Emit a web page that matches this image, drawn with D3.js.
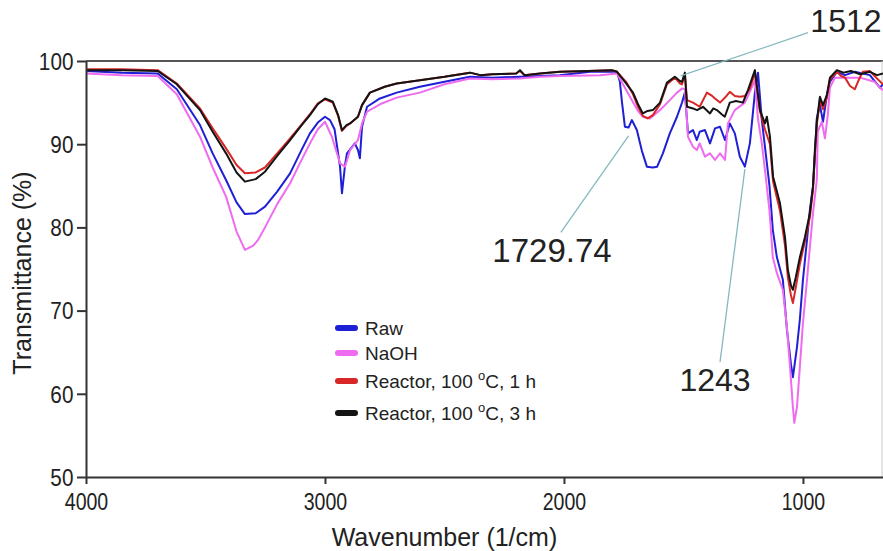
<!DOCTYPE html>
<html>
<head>
<meta charset="utf-8">
<script src="https://cdn.jsdelivr.net/npm/d3@7"></script>
<style>
  html, body { margin: 0; padding: 0; background: #fff; }
  svg { display: block; }
  text { font-family: "Liberation Sans", Arial, sans-serif; fill: #222; }
</style>
</head>
<body>
<svg id="chart" width="883" height="551"></svg>
<script>
// FTIR spectra: [wavenumber (1/cm), transmittance (%)]
const rawSeries = [[4000,98.8],[3850,98.6],[3700,98.5],[3620,96.6],[3523,92.3],[3470,88.9],[3414,85.7],[3370,83.0],[3335,81.6],[3290,81.7],[3251,82.5],[3200,84.3],[3146,86.5],[3100,89.2],[3063,91.3],[3030,92.6],[3000,93.3],[2979,92.9],[2960,91.8],[2937,87.3],[2929,84.1],[2916,87.5],[2908,88.9],[2875,90.1],[2862,89.3],[2854,88.3],[2845,92.1],[2824,94.5],[2770,95.5],[2700,96.2],[2603,96.9],[2500,97.5],[2393,98.1],[2300,98.0],[2184,98.1],[2100,98.2],[2017,98.3],[1891,98.7],[1778,98.7],[1766,97.5],[1757,95.0],[1745,92.1],[1729.74,92.0],[1716,92.9],[1695,91.7],[1674,89.2],[1653,87.3],[1628,87.2],[1610,87.3],[1586,88.9],[1557,91.3],[1527,93.3],[1506,95.0],[1494,96.2],[1481,91.3],[1460,91.7],[1444,90.5],[1432,91.5],[1410,91.7],[1389,90.1],[1368,91.9],[1347,92.1],[1326,90.5],[1306,92.5],[1285,91.3],[1264,88.5],[1243,87.3],[1222,90.1],[1201,96.2],[1188,98.6],[1172,92.9],[1159,89.7],[1140,85.0],[1126,79.7],[1109,76.4],[1084,73.7],[1067,67.7],[1050,63.5],[1042,62.0],[1025,65.6],[1013,68.9],[1000,73.7],[983,78.5],[971,82.1],[958,84.9],[950,88.5],[942,93.1],[929,94.7],[916,92.7],[900,95.9],[887,97.5],[858,98.7],[824,98.3],[783,98.7],[720,98.3],[678,96.8],[665,97.2]];

const naohSeries = [[4000,98.5],[3850,98.3],[3700,98.2],[3620,96.0],[3523,90.9],[3470,87.2],[3414,83.7],[3370,79.5],[3335,77.3],[3300,77.8],[3280,78.5],[3251,80.0],[3200,82.8],[3146,85.3],[3100,88.0],[3063,90.1],[3030,91.8],[3000,92.7],[2971,90.9],[2937,87.7],[2916,87.3],[2895,89.3],[2862,90.5],[2845,92.5],[2824,93.9],[2770,94.8],[2700,95.6],[2603,96.2],[2500,97.2],[2393,97.9],[2300,97.8],[2184,97.9],[2100,98.1],[2017,98.2],[1849,98.3],[1778,98.5],[1724,95.7],[1690,94.0],[1670,93.3],[1640,93.1],[1598,94.1],[1557,95.3],[1527,96.2],[1506,96.7],[1494,96.6],[1481,90.9],[1460,89.7],[1444,89.3],[1432,90.1],[1410,88.5],[1389,88.9],[1368,88.1],[1347,88.9],[1326,88.1],[1314,92.5],[1285,94.1],[1243,95.0],[1213,96.9],[1201,97.7],[1188,93.0],[1172,90.1],[1159,86.9],[1140,82.0],[1126,76.4],[1109,74.5],[1084,72.5],[1067,68.0],[1054,63.2],[1042,58.4],[1036,56.5],[1025,58.4],[1013,63.2],[1000,68.5],[983,73.7],[971,77.6],[958,81.7],[942,85.7],[938,91.5],[921,92.7],[908,90.7],[896,93.5],[887,96.8],[866,98.0],[824,98.0],[762,98.0],[700,97.5],[678,96.8],[665,96.5]];

const reactor1hSeries = [[4000,99.0],[3850,99.0],[3700,98.9],[3620,97.3],[3523,94.3],[3470,91.9],[3414,89.5],[3370,87.5],[3335,86.5],[3290,86.6],[3251,87.2],[3200,88.9],[3146,90.7],[3100,92.3],[3063,93.6],[3030,94.9],[3000,95.4],[2967,95.0],[2945,93.4],[2929,91.6],[2910,92.2],[2895,92.5],[2862,93.3],[2845,94.7],[2812,96.2],[2750,96.9],[2700,97.3],[2603,97.7],[2500,98.1],[2393,98.6],[2350,98.3],[2300,98.4],[2200,98.5],[2184,98.8],[2165,98.3],[2100,98.5],[2017,98.7],[1900,98.8],[1800,98.9],[1778,98.7],[1740,97.5],[1711,96.0],[1690,94.5],[1670,93.4],[1650,93.1],[1628,93.5],[1598,94.8],[1569,97.2],[1536,98.0],[1515,97.3],[1506,97.2],[1494,98.4],[1485,95.3],[1460,95.0],[1432,94.5],[1402,96.2],[1380,95.8],[1368,95.5],[1347,95.0],[1320,95.8],[1306,96.3],[1285,95.8],[1264,95.7],[1243,95.8],[1222,96.7],[1201,98.6],[1180,94.0],[1159,91.8],[1138,90.0],[1125,85.5],[1096,82.0],[1075,77.8],[1063,74.0],[1050,71.8],[1042,70.9],[1030,72.8],[1013,75.6],[992,78.3],[971,81.2],[958,84.5],[950,88.8],[942,92.3],[929,95.4],[916,94.2],[900,95.6],[887,97.8],[858,98.7],[840,98.2],[824,98.0],[803,97.0],[783,96.6],[770,97.5],[750,98.7],[720,98.8],[690,97.9],[665,97.2]];

const reactor3hSeries = [[4000,98.9],[3850,98.9],[3700,98.8],[3620,97.2],[3523,94.1],[3470,91.5],[3414,88.9],[3370,86.6],[3335,85.5],[3290,85.8],[3251,86.7],[3200,88.6],[3146,90.5],[3100,92.2],[3063,93.5],[3030,94.8],[3000,95.5],[2967,95.1],[2945,93.5],[2929,91.7],[2910,92.3],[2895,92.5],[2862,93.3],[2845,94.7],[2812,96.2],[2750,96.9],[2700,97.3],[2603,97.7],[2500,98.1],[2393,98.6],[2350,98.3],[2300,98.4],[2200,98.5],[2184,98.9],[2165,98.3],[2100,98.5],[2017,98.7],[1900,98.8],[1800,98.9],[1778,98.7],[1740,97.3],[1711,96.2],[1690,94.8],[1670,93.7],[1650,94.0],[1628,94.1],[1598,95.0],[1569,97.4],[1536,98.1],[1515,97.6],[1506,97.5],[1494,98.6],[1485,94.5],[1460,94.3],[1443,94.1],[1418,94.5],[1389,93.7],[1375,94.3],[1360,94.1],[1340,93.6],[1327,93.3],[1306,95.0],[1280,95.2],[1251,95.0],[1230,96.5],[1201,98.9],[1180,94.1],[1159,92.5],[1151,93.3],[1138,90.9],[1125,86.1],[1096,82.9],[1075,78.8],[1063,74.9],[1050,73.0],[1042,72.5],[1030,74.0],[1013,76.4],[992,78.8],[971,81.7],[958,84.9],[950,89.3],[942,92.7],[929,95.7],[916,94.7],[900,95.9],[887,98.0],[858,98.9],[830,98.6],[800,98.8],[760,98.4],[720,98.7],[690,98.3],[665,98.5]];

const seriesNames = ["Raw", "NaOH", "Reactor, 100 °C, 1 h", "Reactor, 100 °C, 3 h"];
const seriesColors = ["#1f1fd6", "#ef6bef", "#d92626", "#141414"];
const seriesData = [rawSeries, naohSeries, reactor1hSeries, reactor3hSeries];

const xTicks = [4000, 3000, 2000, 1000];
const yTicks = [50, 60, 70, 80, 90, 100];

// Peak annotations: peak position, leader start and label anchor [wavenumber, %]
const annotations = [
  { label: "1729.74", peak: [1729.74, 91.0], from: [2013, 79.4], at: [2050, 75.9], size: 33 },
  { label: "1243", peak: [1243, 87.0], from: [1347, 63.8], at: [1368, 60.3], size: 32 },
  { label: "1512", peak: [1512, 98.2], from: [979, 103.4], at: [820, 103.5], size: 32 }
];

const svg = d3.select("#chart");
const margin = { left: 86, right: 0, top: 61, bottom: 74 };
const W = 883, H = 551;

const x = d3.scaleLinear().domain([4000, 665]).range([margin.left, W - margin.right]);
const y = d3.scaleLinear().domain([50, 100]).range([H - margin.bottom, margin.top]);

svg.append("defs").append("clipPath").attr("id", "plot-clip")
  .append("rect")
  .attr("x", x.range()[0]).attr("y", y(100) - 2)
  .attr("width", x.range()[1] - x.range()[0]).attr("height", y(50) - y(100) + 2);

// Frame: top border and right border
svg.append("line")
  .attr("x1", x.range()[0]).attr("x2", x.range()[1])
  .attr("y1", y(100)).attr("y2", y(100))
  .attr("stroke", "#555").attr("stroke-width", 2);
svg.append("line")
  .attr("x1", x.range()[1] - 1).attr("x2", x.range()[1] - 1)
  .attr("y1", y(100)).attr("y2", y(50))
  .attr("stroke", "#c8c8c8").attr("stroke-width", 1);

// Spectra
const line = d3.line().x(d => x(d[0])).y(d => y(d[1]));
const plot = svg.append("g").attr("clip-path", "url(#plot-clip)");
seriesData.forEach((s, i) => {
  plot.append("path")
    .datum(s)
    .attr("fill", "none")
    .attr("stroke", seriesColors[i])
    .attr("stroke-width", 2)
    .attr("stroke-linejoin", "round")
    .attr("d", line);
});

// Axes
const xAxis = d3.axisBottom(x).tickValues(xTicks).tickSize(7).tickSizeOuter(0).tickFormat(d3.format("d"));
const yAxis = d3.axisLeft(y).tickValues(yTicks).tickSize(9).tickSizeOuter(0).tickFormat(d3.format("d"));

const gx = svg.append("g").attr("transform", `translate(0,${y(50)})`).call(xAxis);
const gy = svg.append("g").attr("transform", `translate(${x(4000)},0)`).call(yAxis);

[gx, gy].forEach(g => {
  g.select(".domain").attr("stroke", "#333").attr("stroke-width", 2);
  g.selectAll(".tick line").attr("stroke", "#333").attr("stroke-width", 2);
  g.selectAll(".tick text").attr("font-size", 23).attr("fill", "#222");
});
// slightly condensed tick numerals
gx.selectAll(".tick text").attr("dy", null).attr("y", 33).attr("transform", "scale(0.85,1)");
gy.selectAll(".tick text").attr("x", -14).attr("dy", "0.36em").attr("transform", "scale(0.9,1)");

// Axis titles
svg.append("text")
  .attr("x", (x(4000) + x(1000)) / 2).attr("y", 546)
  .attr("text-anchor", "middle").attr("font-size", 25)
  .text("Wavenumber (1/cm)");
svg.append("text")
  .attr("transform", `translate(31,${(y(50) + y(100)) / 2 + 4}) rotate(-90)`)
  .attr("text-anchor", "middle").attr("font-size", 25)
  .text("Transmittance (%)");

// Peak labels with leader lines
const ann = svg.append("g");
annotations.forEach(a => {
  ann.append("line")
    .attr("x1", x(a.from[0])).attr("y1", y(a.from[1]))
    .attr("x2", x(a.peak[0])).attr("y2", y(a.peak[1]))
    .attr("stroke", "#86b9bf").attr("stroke-width", 1.3);
  ann.append("text")
    .attr("x", x(a.at[0])).attr("y", y(a.at[1]))
    .attr("text-anchor", "middle").attr("font-size", a.size).attr("fill", "#1c1c1c")
    .text(a.label);
});

// Legend
const legend = svg.append("g").attr("transform", "translate(335,0)");
const legendRows = [335, 360, 388, 420];
seriesNames.forEach((name, i) => {
  const row = legend.append("g").attr("transform", `translate(0,${legendRows[i]})`);
  row.append("line")
    .attr("x1", 3).attr("x2", 20).attr("y1", -7).attr("y2", -7)
    .attr("stroke", seriesColors[i]).attr("stroke-width", 6).attr("stroke-linecap", "round");
  const t = row.append("text").attr("x", 30).attr("y", 0).attr("font-size", 19);
  const parts = name.split("°");
  if (parts.length === 1) {
    t.text(name);
  } else {
    t.append("tspan").text(parts[0]);
    t.append("tspan").attr("font-size", 13).attr("dy", -8).text("o");
    t.append("tspan").attr("dy", 8).text(parts[1]);
  }
});
</script>
</body>
</html>
